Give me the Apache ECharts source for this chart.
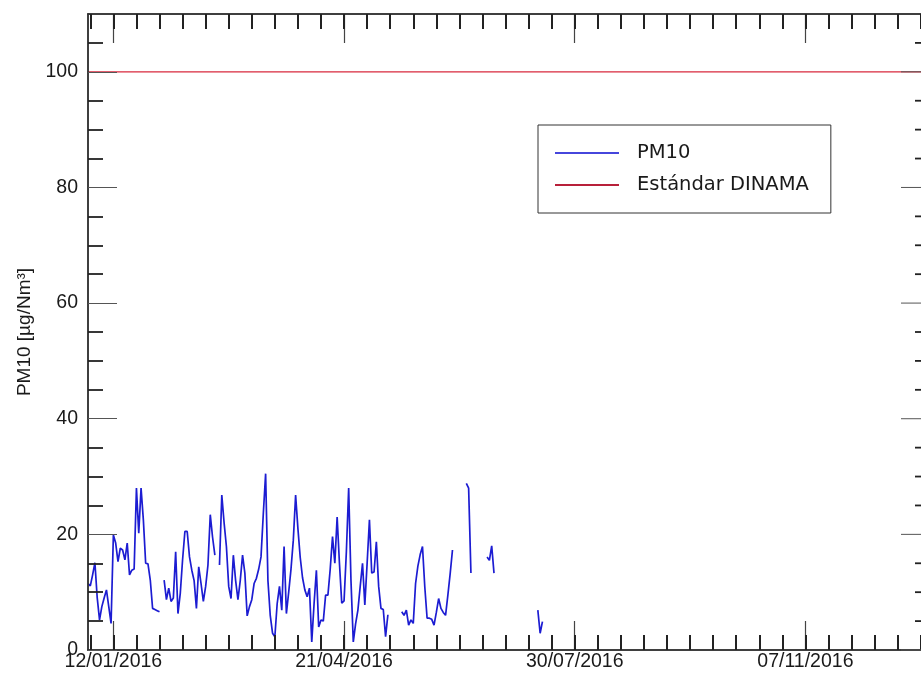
<!DOCTYPE html>
<html>
<head>
<meta charset="utf-8">
<script src="https://cdn.jsdelivr.net/npm/echarts@6/dist/echarts.min.js"></script>
<style>
  html, body { margin: 0; padding: 0; background: #fff; }
  #chart { width: 921px; height: 674px; }
</style>
</head>
<body>
<div id="chart"></div>
<script>
// Daily PM10 means (µg/Nm³) from 01/01/2016; null = no valid measurement that day
const firstDay = '2016-01-01';
const pm10 = [
  11.5, 11.1, 13, 15.1, 9, 5.2, 7.5, 9, 10.4, 7.5,
  4.6, 19.9, 18.5, 15.3, 17.6, 17.3, 15.6, 18.5, 13, 13.8,
  14, 28, 20.2, 28, 22.5, 15, 14.9, 12.1, 7.2, 7,
  6.8, 6.6, null, 12.1, 8.7, 10.7, 8.4, 9, 17, 6.3,
  9.8, 15.6, 20.5, 20.5, 16.1, 13.8, 12, 7.2, 14.4, 11.5,
  8.4, 11, 14.7, 23.4, 19.5, 16.4, null, 14.7, 26.8, 22,
  17.9, 11, 8.9, 16.4, 12, 8.7, 12, 16.4, 13.3, 5.9,
  7.5, 8.7, 11.5, 12.4, 14, 16.1, 23.6, 30.5, 12, 6,
  2.9, 2.3, 8, 11, 6.9, 17.9, 6.3, 10, 14, 19,
  26.8, 21, 16, 12.5, 10.4, 9.2, 10.7, 1.4, 8, 13.8,
  4, 5.2, 5, 9.5, 9.5, 14, 19.6, 15, 23, 15,
  8.1, 8.5, 17, 28, 12, 1.4, 4.5, 6.9, 11, 15,
  7.8, 15, 22.5, 13.3, 13.5, 18.7, 11, 7.2, 7, 2.3,
  6.1, null, null, null, null, null, 6.6, 6.0, 6.9, 4.3,
  5.2, 4.6, 11.5, 14.5, 16.5, 17.9, 10.9, 5.5, 5.5, 5.3,
  4.3, 6.5, 8.9, 7.2, 6.5, 6.0, 9.5, 13.2, 17.3, null,
  null, null, null, null, 28.8, 28, 13.3, null, null, null,
  null, null, null, 16.1, 15.5, 18, 13.3, null, null, null,
  null, null, null, null, null, null, null, null, null, null,
  null, null, null, null, null, 6.9, 2.9, 4.9
];

// DINAMA standard for PM10
const standardLimit = 100;

// Axis range and tick positions
const axisStart = '2016-01-01';
const axisEnd = '2016-12-31';
const majorTickDates = ['2016-01-12', '2016-04-21', '2016-07-30', '2016-11-07'];
const minorTickStepDays = 10;
const firstMinorTick = '2016-01-02';
const yMajorTicks = [0, 20, 40, 60, 80, 100];
const yMinorTicks = [5, 10, 15, 25, 30, 35, 45, 50, 55, 65, 70, 75, 85, 90, 95, 105];

function addDays(s, n) {
  const p = s.split('-').map(Number);
  return Date.UTC(p[0], p[1] - 1, p[2] + n);
}
function parseDay(s) { return addDays(s, 0); }
function pad(n) { return (n < 10 ? '0' : '') + n; }
function fmtDate(v) {
  const d = new Date(v);
  return pad(d.getUTCDate()) + '/' + pad(d.getUTCMonth() + 1) + '/' + d.getUTCFullYear();
}

const xMin = parseDay(axisStart);
const xMax = parseDay(axisEnd);
const majorTicks = majorTickDates.map(parseDay);
const minorTicks = [];
for (let i = 0; addDays(firstMinorTick, i) <= xMax; i += minorTickStepDays) {
  minorTicks.push(addDays(firstMinorTick, i));
}

const pm10Data = pm10.map((v, i) => [addDays(firstDay, i), v]);
const limitData = [[xMin, standardLimit], [xMax, standardLimit]];

const axisColor = '#333';
const labelFont = 'Liberation Sans, Arial, sans-serif';

function xAxisDef(pos, ticks, len, width, color, showLabel) {
  return {
    type: 'value', position: pos, min: xMin, max: xMax,
    axisLine: { show: true, onZero: false, lineStyle: { color: axisColor, width: 1.5 } },
    axisTick: { show: true, inside: true, length: len, customValues: ticks,
      lineStyle: { color: color, width: width } },
    axisLabel: showLabel ? {
      show: true, customValues: majorTicks, formatter: fmtDate,
      fontSize: 19.5, fontFamily: labelFont, color: '#1a1a1a', margin: 2
    } : { show: false },
    splitLine: { show: false }, minorTick: { show: false }, z: 5
  };
}
function yAxisDef(ticks, len, width, color, showLabel, withName) {
  const ax = {
    type: 'value', position: 'left', min: 0, max: 110,
    axisLine: { show: true, onZero: false, lineStyle: { color: axisColor, width: 1.5 } },
    axisTick: { show: true, inside: true, length: len, customValues: ticks,
      lineStyle: { color: color, width: width } },
    axisLabel: showLabel ? {
      show: true, customValues: yMajorTicks,
      fontSize: 19.5, fontFamily: labelFont, color: '#1a1a1a', margin: 10
    } : { show: false },
    splitLine: { show: false }, z: 5
  };
  if (withName) {
    ax.name = 'PM10 [µg/Nm³]';
    ax.nameLocation = 'middle';
    ax.nameGap = 53;
    ax.nameTextStyle = { fontSize: 19, fontFamily: labelFont, color: '#1a1a1a' };
  }
  return ax;
}

const chart = echarts.init(document.getElementById('chart'), null, { renderer: 'canvas' });
chart.setOption({
  animation: false,
  backgroundColor: '#fff',
  grid: { left: 88, top: 14, right: -9, bottom: 24, containLabel: false, outerBoundsMode: 'none' },
  legend: {
    orient: 'vertical', left: 538, top: 125,
    padding: [18, 22, 18, 17],
    borderColor: '#333', borderWidth: 1,
    backgroundColor: '#fff',
    icon: 'rect', itemWidth: 64, itemHeight: 2, itemGap: 12,
    textStyle: { fontSize: 19.5, fontFamily: 'DejaVu Sans', color: '#1a1a1a',
      lineHeight: 19, padding: [0, 0, 0, 13] },
    data: [
      { name: 'PM10', itemStyle: { color: '#4646dc' } },
      { name: 'Estándar DINAMA', itemStyle: { color: '#b8203a' } }
    ]
  },
  xAxis: [
    xAxisDef('bottom', majorTicks, 29, 1.2, '#444', true),
    xAxisDef('bottom', minorTicks, 15, 2, '#222', false),
    xAxisDef('top', majorTicks, 29, 1.2, '#444', false),
    xAxisDef('top', minorTicks, 15, 2, '#222', false)
  ],
  yAxis: [
    yAxisDef(yMajorTicks, 29, 1, '#555', true, true),
    yAxisDef(yMinorTicks, 15, 1.8, '#222', false, false)
  ],
  series: [
    {
      name: 'PM10', type: 'line', xAxisIndex: 0, yAxisIndex: 0,
      data: pm10Data, showSymbol: false, symbol: 'none', connectNulls: false,
      lineStyle: { color: '#1c1cd2', width: 1.7 }, itemStyle: { color: '#1c1cd2' }, z: 2
    },
    {
      name: 'Estándar DINAMA', type: 'line', xAxisIndex: 0, yAxisIndex: 0,
      data: limitData, showSymbol: false, symbol: 'none',
      lineStyle: { color: '#d8283c', width: 1.2 }, itemStyle: { color: '#d8283c' }, z: 2
    }
  ]
});

// Mirror the y ticks on the right frame edge, positioned through the chart's own scales
function rightTicks(values, len, width, color) {
  return values.map(v => {
    const p = chart.convertToPixel({ xAxisIndex: 0, yAxisIndex: 0 }, [xMax, v]);
    return {
      type: 'line', z: 10, silent: true,
      shape: { x1: p[0] - len, y1: p[1], x2: p[0], y2: p[1] },
      style: { stroke: color, lineWidth: width }
    };
  });
}
chart.setOption({
  graphic: [].concat(
    rightTicks(yMajorTicks, 29, 1, '#555'),
    rightTicks(yMinorTicks, 15, 1.8, '#222')
  )
});
</script>
</body>
</html>
